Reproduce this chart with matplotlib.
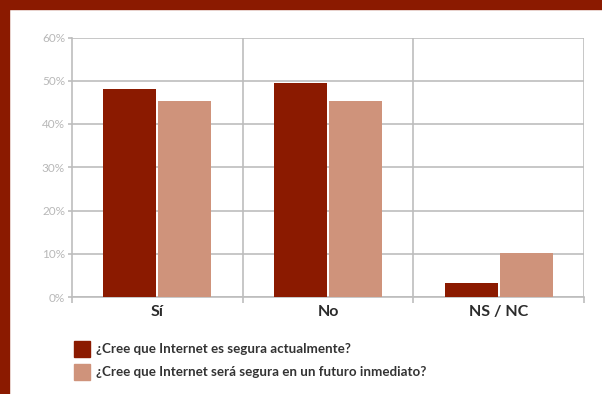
import matplotlib
matplotlib.use("Agg")
import matplotlib.pyplot as plt
import numpy as np
from matplotlib.patches import Rectangle

categories = ["Sí", "No", "NS / NC"]
actual = [48.0, 49.4, 3.2]
futuro = [45.3, 45.3, 10.2]
series_names = ["¿Cree que Internet es segura actualmente?",
                "¿Cree que Internet será segura en un futuro inmediato?"]
yticks = [0, 10, 20, 30, 40, 50, 60]

dark = "#8B1A00"
light = "#CF937B"
grid = "#BDBDBD"

plt.rcParams['font.family'] = ['Lato', 'DejaVu Sans']

W, H = 602, 394
fig = plt.figure(figsize=(W/100, H/100), dpi=100)
fig.patch.set_facecolor("white")

# frame (top and left bars)
fig.add_artist(Rectangle((0, 1 - 9/H), 1, 9/H, transform=fig.transFigure, color=dark, zorder=0))
fig.add_artist(Rectangle((0, 0), 9/W, 1, transform=fig.transFigure, color=dark, zorder=0))

x0, x1 = 72, 584
ytop, ybot = 37.5, 297
ax = fig.add_axes([x0/W, 1 - ybot/H, (x1-x0)/W, (ybot-ytop)/H])
ax.set_xlim(0, 3)
ax.set_ylim(0, 60)

x = np.arange(len(categories)) + 0.5
bw = 0.31
gap = 0.006
ax.bar(x - bw/2 - gap, actual, bw, color=dark, zorder=3)
ax.bar(x + bw/2 + gap, futuro, bw, color=light, zorder=3)

for yv in yticks:
    ax.axhline(yv, color=grid, lw=1.2, zorder=1)
for xv in [1, 2, 3]:
    ax.axvline(xv, color=grid, lw=1.2, zorder=1)

for s in ["top", "right"]:
    ax.spines[s].set_visible(False)
ax.spines["left"].set_color(grid)
ax.spines["bottom"].set_color(grid)
ax.spines["left"].set_linewidth(1.2)
ax.spines["bottom"].set_linewidth(1.2)

ax.set_yticks(yticks)
ax.set_yticklabels([f"{v}%" for v in yticks], color="#B8B8B8", fontsize=8.5)
ax.tick_params(axis="y", length=3, width=1.2, color=grid, pad=2)

ax.set_xticks([0, 1, 2, 3])
ax.set_xticklabels([])
ax.tick_params(axis="x", length=4, width=1.2, color=grid)
for xi, c in zip(x, categories):
    ax.text(xi, -3.5, c, ha="center", va="center", fontsize=11.5, color="#2b2b2b",
            fontweight="bold")

# legend
for i, (name, col) in enumerate(zip(series_names, [dark, light])):
    yc = 349 + i*23
    fig.add_artist(Rectangle((74/W, 1 - (yc+8)/H), 16/W, 16/H,
                             transform=fig.transFigure, color=col))
    fig.text(96/W, 1 - yc/H, name, ha="left", va="center", fontsize=9.6,
             color="#333333", fontweight="bold")

fig.savefig("out.png", dpi=100)
